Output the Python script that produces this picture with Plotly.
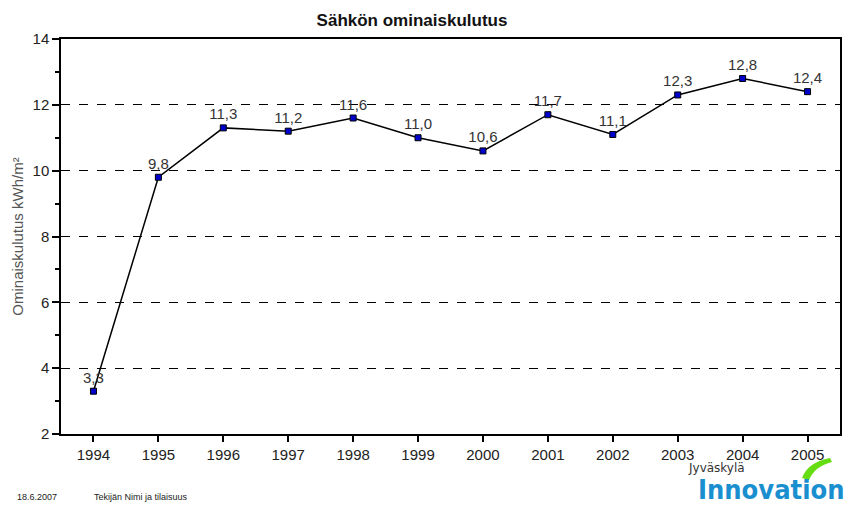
import plotly.graph_objects as go

years = [1994, 1995, 1996, 1997, 1998, 1999, 2000, 2001, 2002, 2003, 2004, 2005]
values = [3.3, 9.8, 11.3, 11.2, 11.6, 11.0, 10.6, 11.7, 11.1, 12.3, 12.8, 12.4]
labels = [f"{v:.1f}".replace(".", ",") for v in values]

title_text = "Sähkön ominaiskulutus"
y_title = "Ominaiskulutus kWh/m²"
footer_date = "18.6.2007"
footer_author = "Tekijän Nimi ja tilaisuus"

FONT = "Liberation Sans, Arial, sans-serif"
L, R, T, B = 61, 840, 39, 434

fig = go.Figure()
fig.add_trace(go.Scatter(
    x=years, y=values, mode="lines+markers+text",
    text=labels, textposition="top center",
    textfont=dict(family=FONT, size=15, color="#333333"),
    line=dict(color="black", width=1.5),
    marker=dict(symbol="square", size=6, color="#0000cc", line=dict(color="black", width=1)),
    cliponaxis=False, showlegend=False,
))

fig.update_layout(
    width=848, height=507,
    margin=dict(l=L, r=848 - R, t=T, b=507 - B),
    paper_bgcolor="white", plot_bgcolor="white",
    font=dict(family=FONT, size=15, color="#222222"),
    title=dict(text="<b>" + title_text + "</b>", x=412 / 848, xanchor="center",
               y=1 - 20 / 507, yanchor="middle",
               font=dict(family=FONT, size=17, color="#111111")),
    xaxis=dict(range=[1993.5, 2005.5], tickmode="array", tickvals=years,
               ticktext=[str(y) for y in years], automargin=False,
               showgrid=False, zeroline=False,
               showline=True, linecolor="black", linewidth=1.5, mirror=True,
               ticks="outside", ticklen=6, tickcolor="black", tickwidth=1.5,
               tickfont=dict(family=FONT, size=15, color="#222222")),
    yaxis=dict(range=[2, 14], tickmode="linear", tick0=2, dtick=2, automargin=False,
               showgrid=True, gridcolor="black", gridwidth=1, griddash="dash",
               zeroline=False,
               showline=True, linecolor="black", linewidth=1.5, mirror=True,
               ticks="outside", ticklen=7, tickcolor="black", tickwidth=1.5,
               minor=dict(dtick=1, ticks="outside", ticklen=4, tickcolor="black", tickwidth=1.5, showgrid=False),
               tickfont=dict(family=FONT, size=15, color="#222222"),
               title=dict(text=y_title, standoff=5,
                          font=dict(family=FONT, size=15, color="#555555"))),
)


def px_x(px):
    return (px - L) / (R - L)


def px_y(py):
    return (B - py) / (B - T)


fig.add_annotation(text=footer_date, xref="paper", yref="paper",
                   x=px_x(15), y=px_y(497), xanchor="left", yanchor="middle",
                   showarrow=False, font=dict(family=FONT, size=9, color="#222222"))
fig.add_annotation(text=footer_author, xref="paper", yref="paper",
                   x=px_x(92), y=px_y(497), xanchor="left", yanchor="middle",
                   showarrow=False, font=dict(family=FONT, size=9, color="#222222"))
fig.add_annotation(text="Jyväskylä", xref="paper", yref="paper",
                   x=px_x(686), y=px_y(468), xanchor="left", yanchor="middle",
                   showarrow=False, font=dict(family="DejaVu Sans, sans-serif", size=12, color="#333333"))
fig.add_annotation(text="<b>Innovation</b>", xref="paper", yref="paper",
                   x=px_x(846), y=px_y(489), xanchor="right", yanchor="middle",
                   showarrow=False,
                   font=dict(family="Liberation Sans Narrow, DejaVu Sans Condensed, sans-serif", size=27, color="#1a8fd0"))
fig.add_shape(type="path", xref="paper", yref="paper",
              path=f"M {px_x(802)} {px_y(478)} Q {px_x(808)} {px_y(462)} {px_x(830)} {px_y(458)} "
                   f"L {px_x(832)} {px_y(462)} Q {px_x(815)} {px_y(466)} {px_x(809)} {px_y(480)} Z",
              fillcolor="#66dd11", line=dict(width=0))

fig.write_html("out.html", config={"displayModeBar": False},
               post_script="document.body.style.margin='0';document.body.style.overflow='hidden';")
